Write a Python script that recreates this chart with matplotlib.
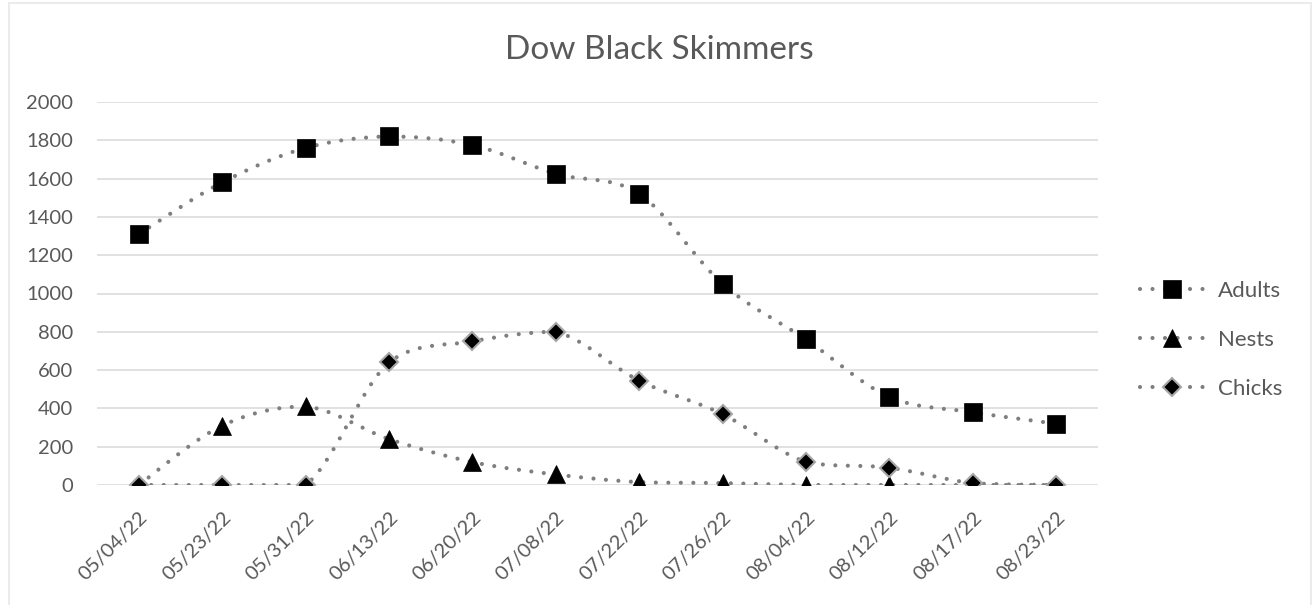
import matplotlib
matplotlib.use('Agg')
import matplotlib.pyplot as plt
from matplotlib.path import Path
from matplotlib.patches import PathPatch, Rectangle
from matplotlib.lines import Line2D

plt.rcParams['font.family'] = ['Lato', 'DejaVu Sans']

dates = ['05/04/22', '05/23/22', '05/31/22', '06/13/22', '06/20/22', '07/08/22',
         '07/22/22', '07/26/22', '08/04/22', '08/12/22', '08/17/22', '08/23/22']
adults = [1310, 1580, 1760, 1820, 1775, 1625, 1520, 1050, 760, 460, 380, 320]
nests = [0, 310, 410, 240, 120, 55, 15, 10, 0, 0, 0, 0]
chicks = [0, 0, 0, 640, 750, 800, 545, 370, 120, 90, 10, 0]

TEXT = '#595959'
DOTS = '#7f7f7f'
GRID = '#d9d9d9'


def smooth_path(xs, ys):
    # bezier segments through the points (excel style smoothed line),
    # control points kept inside each segment's y range so flat runs stay flat
    pts = list(zip(xs, ys))
    n = len(pts)
    verts = [pts[0]]
    codes = [Path.MOVETO]
    for i in range(n - 1):
        p0 = pts[max(i - 1, 0)]
        p1 = pts[i]
        p2 = pts[i + 1]
        p3 = pts[min(i + 2, n - 1)]
        lo, hi = min(p1[1], p2[1]), max(p1[1], p2[1])
        c1 = (p1[0] + (p2[0] - p0[0]) / 6, min(max(p1[1] + (p2[1] - p0[1]) / 6, lo), hi))
        c2 = (p2[0] - (p3[0] - p1[0]) / 6, min(max(p2[1] - (p3[1] - p1[1]) / 6, lo), hi))
        verts += [c1, c2, p2]
        codes += [Path.CURVE4] * 3
    return Path(verts, codes)


fig = plt.figure(figsize=(13.14, 6.05), dpi=100)
ax = fig.add_axes([97 / 1314, 1 - 485 / 605, (1098 - 97) / 1314, (485 - 102) / 605])

x = list(range(len(dates)))
dot_style = dict(linestyle=(0, (0.001, 3)), linewidth=3, capstyle='round')

series = [
    ('Adults', adults, dict(marker='s', markersize=13.5, markerfacecolor='black', markeredgecolor='black', markeredgewidth=0.5)),
    ('Nests', nests, dict(marker='^', markersize=12.5, markerfacecolor='black', markeredgecolor='black', markeredgewidth=0.5)),
    ('Chicks', chicks, dict(marker='D', markersize=9.5, markerfacecolor='black', markeredgecolor='#a6a6a6', markeredgewidth=1.5)),
]

handles = []
for k, (name, vals, mk) in enumerate(series):
    patch = PathPatch(smooth_path(x, vals), fill=False, edgecolor=DOTS, zorder=3 + k, **dot_style)
    ax.add_patch(patch)
for k, (name, vals, mk) in enumerate(series):
    ax.plot(x, vals, linestyle='none', zorder=6 + k, **mk)
    handles.append(Line2D([], [], color=DOTS, linestyle=(0, (0.001, 3)), linewidth=3,
                          dash_capstyle='round', **mk))

ax.set_xlim(-0.5, len(dates) - 0.5)
ax.set_ylim(0, 2000)
ax.set_yticks(range(0, 2001, 200))
ax.set_xticks(x)
ax.set_xticklabels(dates, rotation=45, ha='right', rotation_mode='anchor', va='top', fontsize=15)
ax.grid(axis='y', color=GRID, linewidth=1.1)
ax.set_axisbelow(True)
for s in ax.spines.values():
    s.set_visible(False)
ax.tick_params(axis='both', length=0, labelsize=14.5, labelcolor=TEXT)
ax.tick_params(axis='y', pad=17)
ax.tick_params(axis='x', pad=17)

fig.text(0.502, 1 - 59 / 605, 'Dow Black Skimmers', ha='center', va='baseline', fontsize=24, color=TEXT)

leg = fig.legend(handles, [s[0] for s in series], loc='center left',
                 bbox_to_anchor=(1140 / 1314, 1 - 340 / 605), frameon=False,
                 fontsize=16, labelcolor=TEXT, handlelength=2.85, handletextpad=0.65,
                 labelspacing=1.3, borderpad=0, borderaxespad=0, numpoints=1)

# light chart border
fig.patches.append(Rectangle((9 / 1314, -0.02), 1302 / 1314, 1.02 - 3 / 605, transform=fig.transFigure,
                             fill=False, edgecolor='#ebebeb', linewidth=1.5))

fig.savefig('out.png', dpi=100)
